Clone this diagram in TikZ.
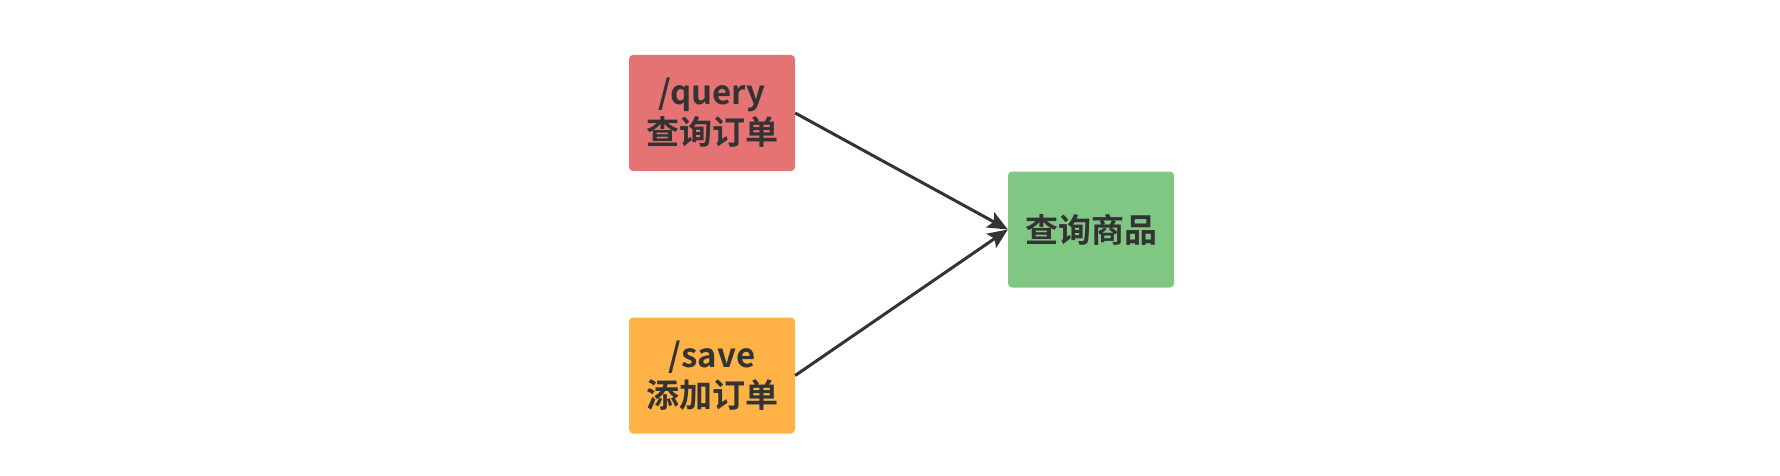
\documentclass[tikz,border=0pt]{standalone}
\usepackage{fontspec}
\setmainfont{Noto Sans CJK SC}[BoldFont={Noto Sans CJK SC Bold}]
\usetikzlibrary{arrows.meta}
\definecolor{redfill}{HTML}{E57373}
\definecolor{orangefill}{HTML}{FFB347}
\definecolor{greenfill}{HTML}{7FC783}
\definecolor{txt}{HTML}{333333}
\tikzset{
  box/.style={minimum width=166pt, minimum height=116pt, rounded corners=4pt, inner sep=0pt,
    font=\fontsize{33}{40}\selectfont\bfseries, text=txt, align=center},
  conn/.style={draw=txt, line width=3pt, -{Stealth[length=20pt,width=17pt,inset=4pt]}}
}
\begin{document}
\begin{tikzpicture}[x=1pt,y=-1pt]
\useasboundingbox (0,0) rectangle (1780,476);
\fill[white] (0,0) rectangle (1780,476);
\node[box, fill=redfill] (query) at (712,113) {/query\\查询订单};
\node[box, fill=orangefill] (save) at (712,375.5) {/save\\添加订单};
\node[box, fill=greenfill] (goods) at (1091,229.5) {查询商品};
\draw[conn] (query.east) -- (goods.west);
\draw[conn] (save.east) -- (goods.west);
\end{tikzpicture}
\end{document}
